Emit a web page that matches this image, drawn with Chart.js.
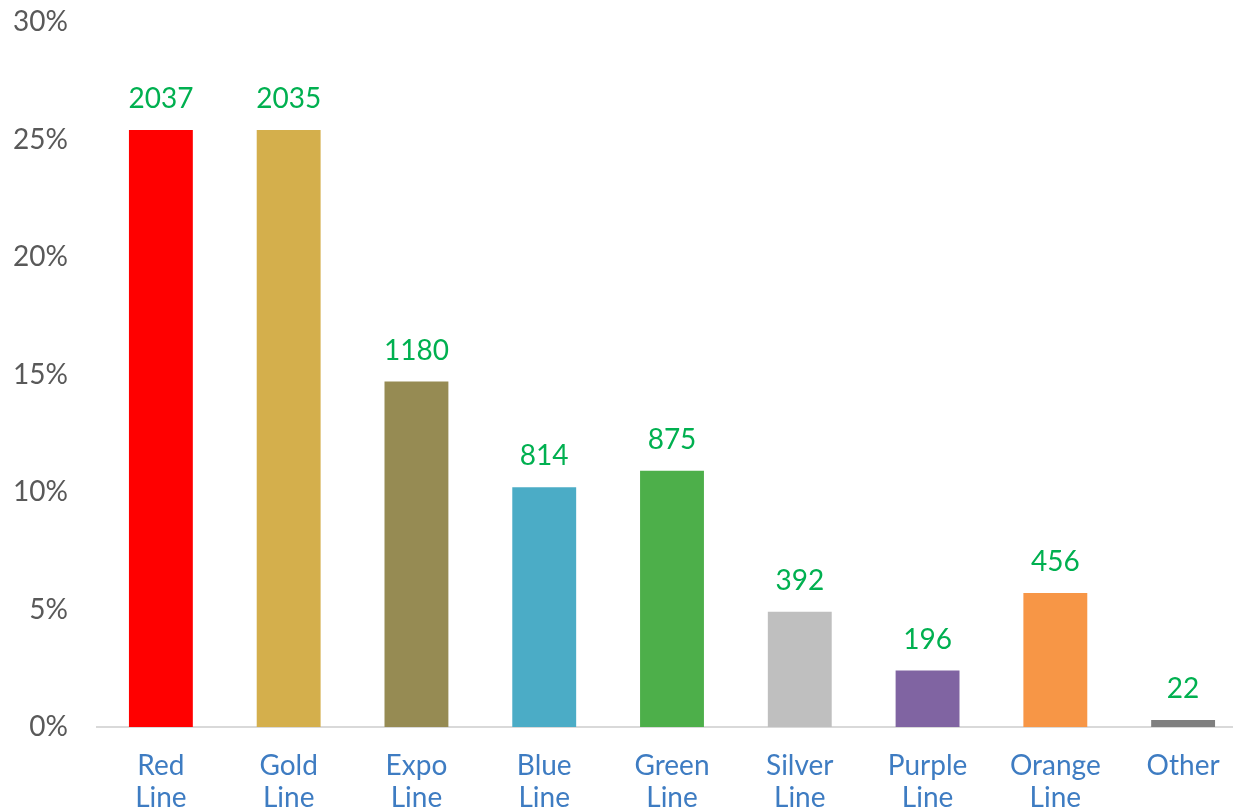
<!DOCTYPE html>
<html>
<head>
<meta charset="utf-8">
<script src="https://cdn.jsdelivr.net/npm/chart.js@4"></script>
<style>
  html, body { margin: 0; padding: 0; background: #fff; overflow: hidden; }
  #wrap { position: relative; width: 1250px; height: 812px; }
</style>
</head>
<body>
<div id="wrap"><canvas id="barChart"></canvas></div>
<script>
const categories = [['Red', 'Line'], ['Gold', 'Line'], ['Expo', 'Line'], ['Blue', 'Line'], ['Green', 'Line'],
    ['Silver', 'Line'], ['Purple', 'Line'], ['Orange', 'Line'], 'Other'];
// share of riders (%)
const shares = [25.4, 25.4, 14.7, 10.2, 10.9, 4.9, 2.4, 5.7, 0.3];
// counts printed above the bars
const counts = [2037, 2035, 1180, 814, 875, 392, 196, 456, 22];
const barColors = ['#FF0000', '#D4AF4C', '#968B53', '#4BACC6', '#4DAF4A', '#BFBFBF', '#8064A2', '#F79646', '#7F7F7F'];
const yTicks = [0, 5, 10, 15, 20, 25, 30];

const FONT = 'Lato, "Open Sans", sans-serif';

// draw the count above each bar
const countLabels = {
    id: 'countLabels',
    afterDatasetsDraw(chart) {
        const c = chart.ctx;
        const meta = chart.getDatasetMeta(0);
        c.save();
        c.font = '28px ' + FONT;
        c.fillStyle = '#00B050';
        c.textAlign = 'center';
        c.textBaseline = 'middle';
        meta.data.forEach((bar, i) => {
            c.fillText(String(counts[i]), bar.x, bar.y - 31);
        });
        c.restore();
    }
};

const ctx = document.getElementById('barChart').getContext('2d');
let barChart = new Chart(ctx, {
    type: 'bar',
    data: {
        labels: categories,
        datasets: [{
            data: shares,
            backgroundColor: barColors,
            borderWidth: 0,
            categoryPercentage: 1.0,
            barPercentage: 0.5
        }]
    },
    options: {
        responsive: true,
        maintainAspectRatio: false,
        animation: false,
        layout: { padding: { top: 0, right: 3, left: 0, bottom: 0 } },
        plugins: {
            legend: { display: false },
            tooltip: { enabled: false }
        },
        scales: {
            x: {
                grid: { display: false, drawTicks: false },
                border: { display: true, color: '#D9D9D9', width: 2 },
                ticks: {
                    color: '#3E7CC2',
                    font: { family: FONT, size: 28, lineHeight: 1.15 },
                    padding: 23,
                    maxRotation: 0,
                    autoSkip: false
                },
                afterFit(scale) { scale.height = 85; }
            },
            y: {
                min: 0,
                max: 30,
                afterBuildTicks(scale) { scale.ticks = yTicks.map(v => ({ value: v })); },
                grid: { display: false, drawTicks: false },
                border: { display: false },
                ticks: {
                    color: '#595959',
                    font: { family: FONT, size: 28 },
                    padding: 29,
                    callback: v => v + '%'
                },
                afterFit(scale) {
                    scale.width = 97;
                    scale.paddingTop = 22;
                    scale.paddingBottom = 0;
                }
            }
        }
    },
    plugins: [countLabels]
});
</script>
</body>
</html>
